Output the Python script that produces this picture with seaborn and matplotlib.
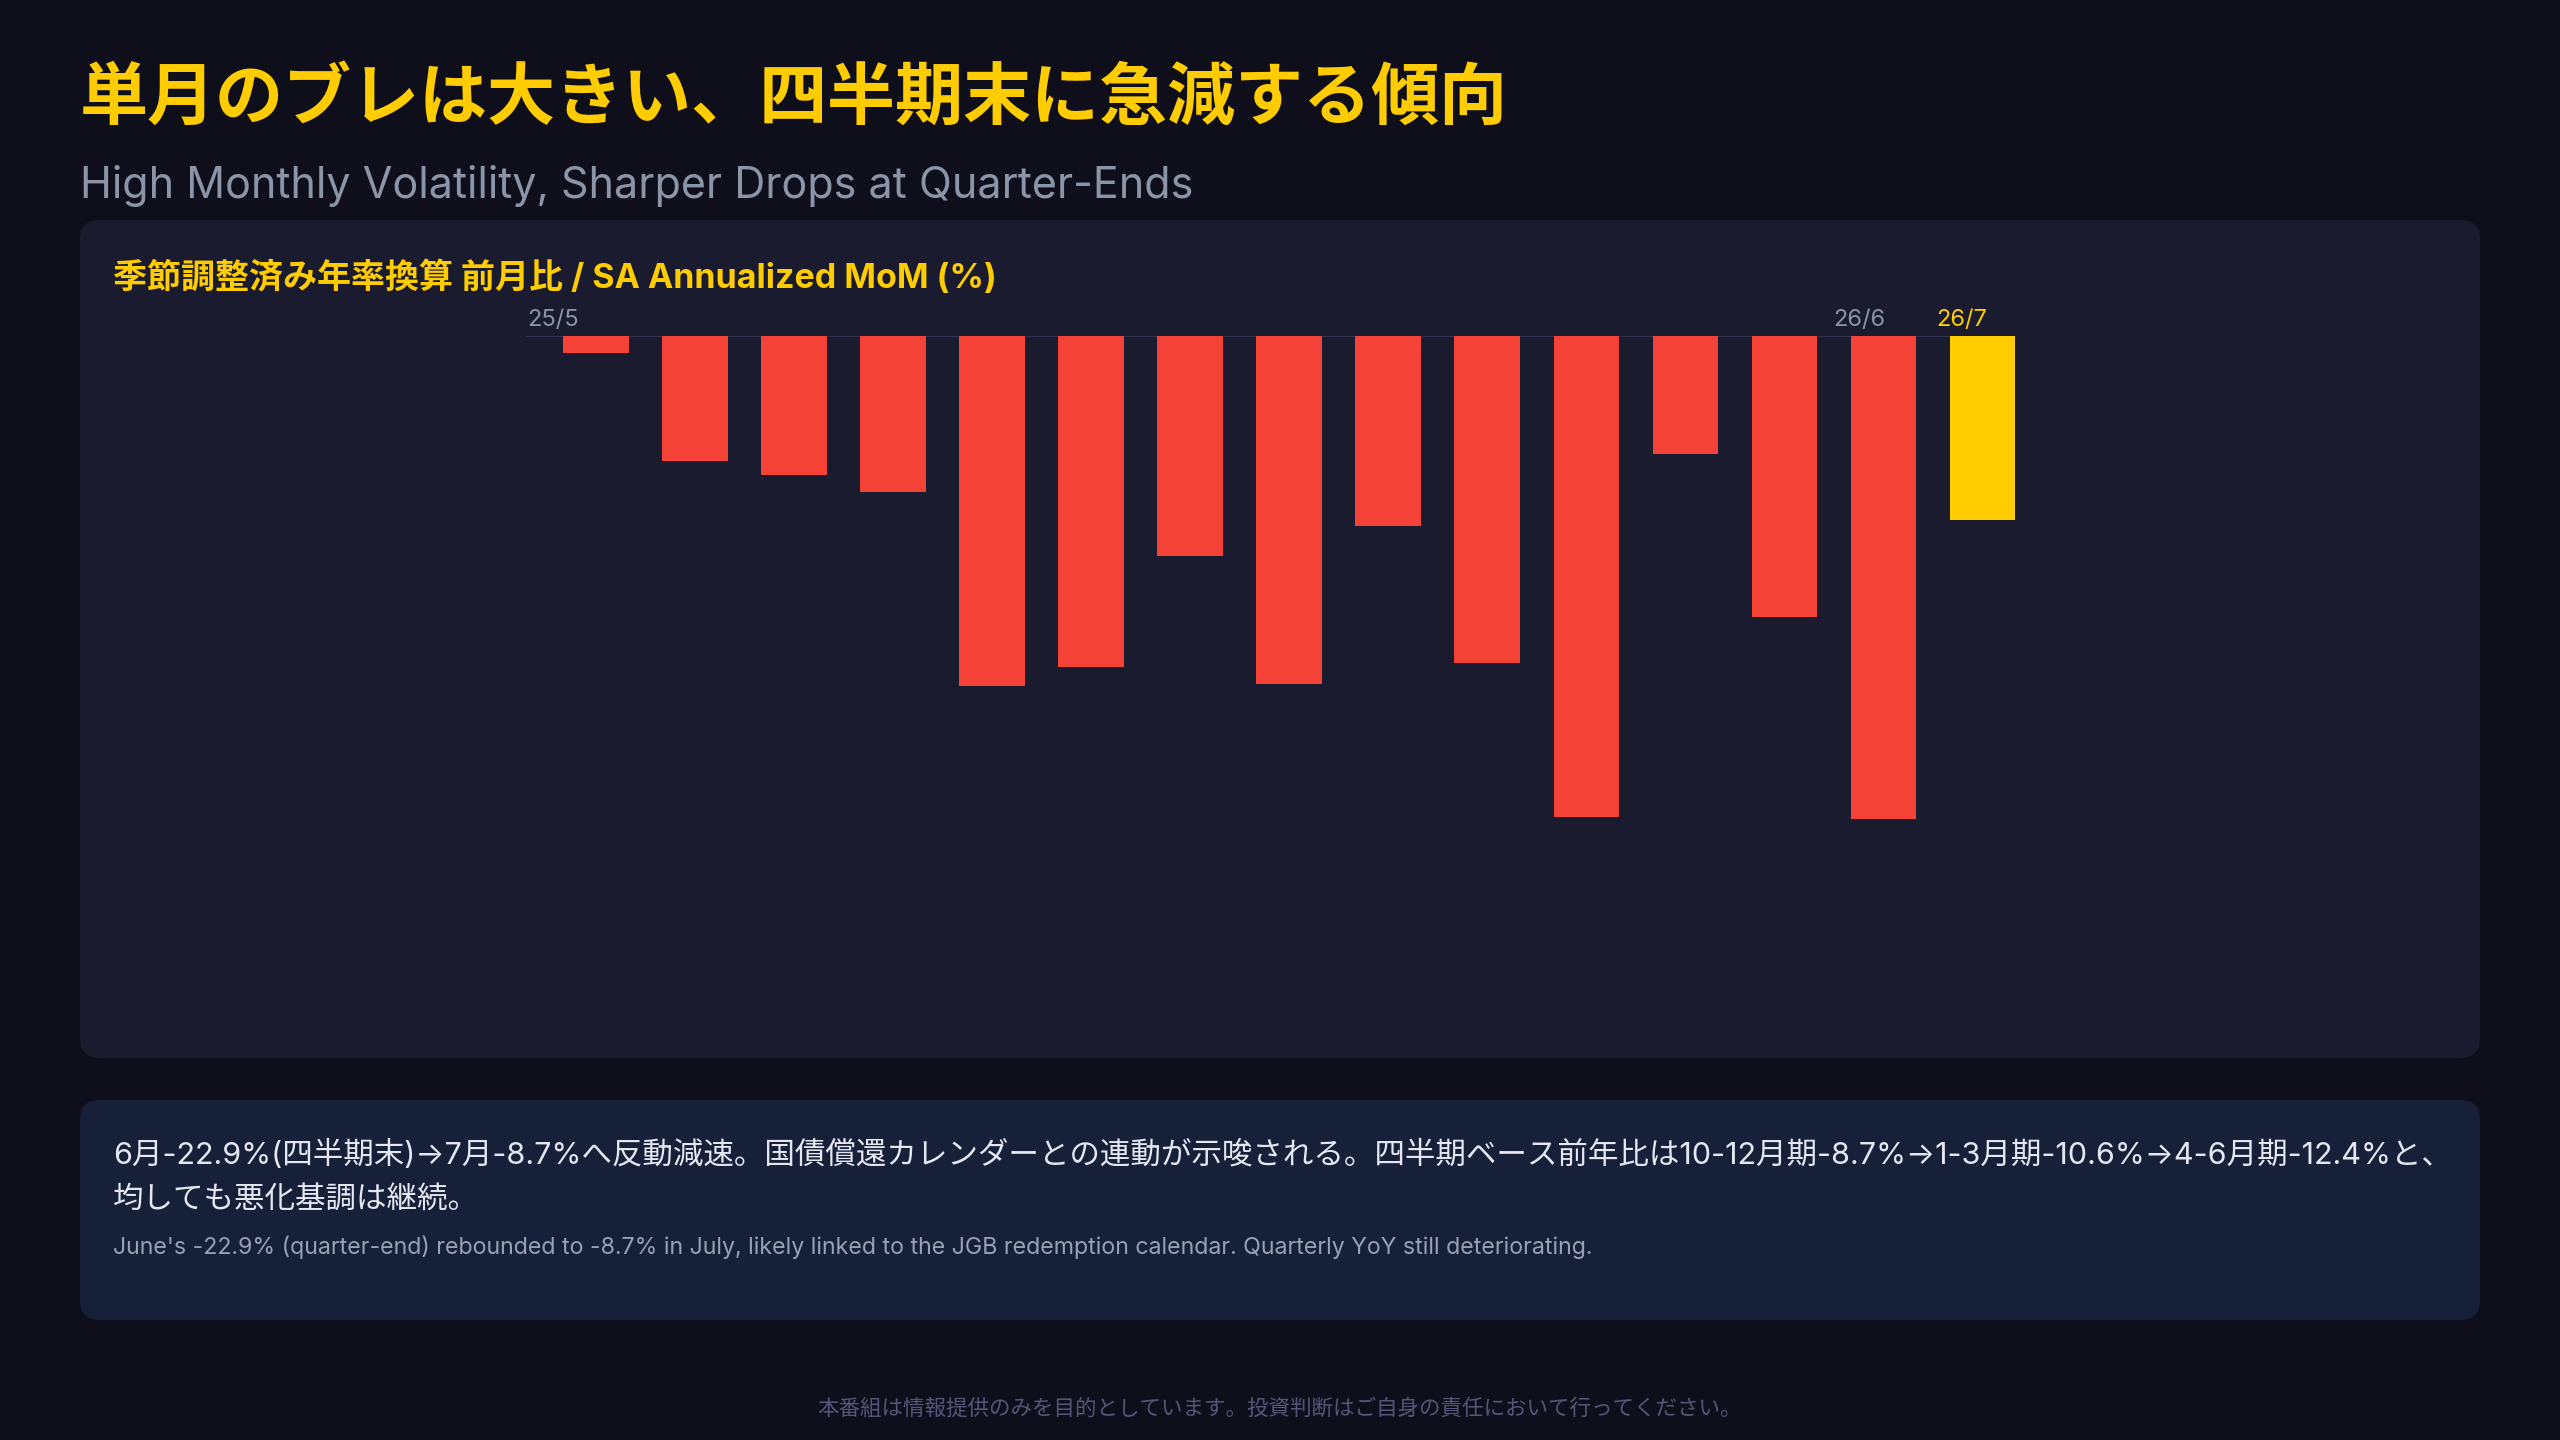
import matplotlib
matplotlib.use("Agg")
import matplotlib.pyplot as plt
from matplotlib.patches import FancyBboxPatch
import seaborn as sns
import pandas as pd

# data (SA annualized MoM, %)
months = ["25/5", "25/6", "25/7", "25/8", "25/9", "25/10", "25/11", "25/12",
          "26/1", "26/2", "26/3", "26/4", "26/5", "26/6", "26/7"]
mom = [-0.8, -5.9, -6.6, -7.4, -16.6, -15.7, -10.4, -16.5,
       -9.0, -15.5, -22.8, -5.6, -13.3, -22.9, -8.7]
shown_labels = ["25/5", "26/6", "26/7"]
latest = "26/7"

title_jp = "単月のブレは大きい、四半期末に急減する傾向"
title_en = "High Monthly Volatility, Sharper Drops at Quarter-Ends"
panel_title = "季節調整済み年率換算 前月比 / SA Annualized MoM (%)"
note_jp = ("6月-22.9%(四半期末)→7月-8.7%へ反動減速。国債償還カレンダーとの連動が示唆される。"
           "四半期ベース前年比は10-12月期-8.7%→1-3月期-10.6%→4-6月期-12.4%と、\n均しても悪化基調は継続。")
note_en = ("June's -22.9% (quarter-end) rebounded to -8.7% in July, likely linked to the "
           "JGB redemption calendar. Quarterly YoY still deteriorating.")
footer = "本番組は情報提供のみを目的としています。投資判断はご自身の責任において行ってください。"

BG = "#0f0f1c"
PANEL = "#1a1b2e"
NOTE = "#172039"
RED = "#f44336"
YELLOW = "#ffcc00"
GREY = "#8a96a8"

sns.set_theme(style="dark")
plt.rcParams["font.family"] = ["Inter", "Noto Sans CJK JP", "DejaVu Sans"]

df = pd.DataFrame({"month": months, "mom": mom})
palette = {m: (YELLOW if m == latest else RED) for m in months}

fig = plt.figure(figsize=(25.6, 14.4), dpi=100, facecolor=BG)

# background layer in pixel coordinates
bg = fig.add_axes([0, 0, 1, 1])
bg.set_xlim(0, 2560)
bg.set_ylim(1440, 0)
bg.axis("off")
bg.set_facecolor(BG)
bg.add_patch(FancyBboxPatch((80, 220), 2400, 838, boxstyle="round,pad=0,rounding_size=20",
                            fc=PANEL, ec="none"))
bg.add_patch(FancyBboxPatch((80, 1100), 2400, 220, boxstyle="round,pad=0,rounding_size=20",
                            fc=NOTE, ec="none"))

bg.text(80, 100, title_jp, color=YELLOW, fontsize=49, fontweight="bold", va="center")
bg.text(80, 186, title_en, color=GREY, fontsize=31, va="center")
bg.text(113, 278, panel_title, color=YELLOW, fontsize=24.5, fontweight="bold", va="center")
bg.text(113, 1177, note_jp, color="#e4e6f0", fontsize=22, va="center", linespacing=1.7)
bg.text(113, 1247, note_en, color="#9aa0b4", fontsize=16.7, va="center")
bg.text(1280, 1408, footer, color="#55557a", fontsize=15.5, va="center", ha="center")

# bar chart
ax = fig.add_axes([526 / 2560, 1 - 1001 / 1440, (2015 - 526) / 2560, (1001 - 336) / 1440])
ax.patch.set_alpha(0)
sns.barplot(data=df, x="month", y="mom", hue="month", palette=palette, legend=False,
            width=0.66, saturation=1, linewidth=0, edgecolor="none", ax=ax)
ax.set_xlim(-0.706, 14.33)
ax.set_ylim(-31.5, 0)
ax.axhline(0, color="#2e3150", lw=1.5, zorder=0)
ax.set_xlabel("")
ax.set_ylabel("")
ax.set_xticks([])
ax.set_yticks([])
for s in ax.spines.values():
    s.set_visible(False)

label_x = {"25/5": -0.43, "26/6": 12.76, "26/7": 13.79}
for m in shown_labels:
    ax.annotate(m, (label_x[m], 0), xytext=(0, 5), textcoords="offset pixels",
                ha="center", va="bottom", fontsize=17,
                color=YELLOW if m == latest else GREY, annotation_clip=False)

fig.savefig("out.png", dpi=100, facecolor=BG)
